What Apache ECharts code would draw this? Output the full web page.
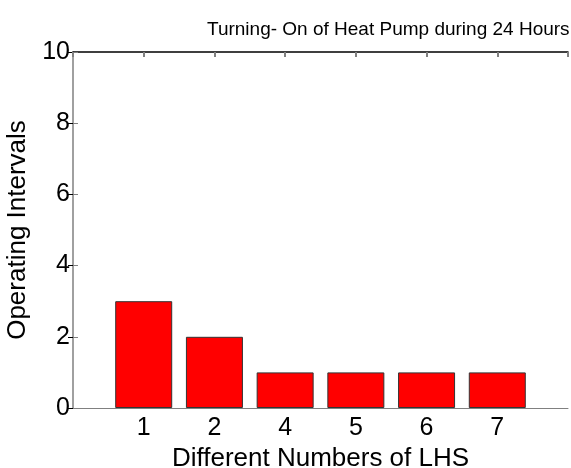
<!DOCTYPE html>
<html>
<head>
<meta charset="utf-8">
<script src="https://cdn.jsdelivr.net/npm/echarts@6/dist/echarts.min.js"></script>
<style>
  html, body { margin: 0; padding: 0; background: #fff; }
  #chart { width: 571px; height: 468px; }
</style>
</head>
<body>
<div id="chart"></div>
<script>
// data
var categories = ['1', '2', '4', '5', '6', '7'];
var values = [3, 2, 1, 1, 1, 1];
var yTicks = [0, 2, 4, 6, 8, 10];

var font = 'Liberation Sans, Arial, sans-serif';
var chart = echarts.init(document.getElementById('chart'));

// bars sit at x = 1..6 on a 0..7 axis, labelled by categories
var barData = values.map(function (v, i) { return [i + 1, v]; });

chart.setOption({
    animation: false,
    title: {
        text: 'Turning- On of Heat Pump during 24 Hours',
        left: 202, top: 15,
        textStyle: { fontFamily: font, fontSize: 19, fontWeight: 'normal', color: '#000' }
    },
    grid: { left: 73, right: 3, top: 52, bottom: 60, containLabel: false, outerBoundsMode: 'none' },
    xAxis: [{
        type: 'value', min: 0, max: 7, interval: 1,
        position: 'bottom',
        name: 'Different Numbers of LHS',
        nameLocation: 'middle', nameGap: 31,
        nameTextStyle: { fontFamily: font, fontSize: 26, color: '#000' },
        axisLine: { show: true, onZero: false, lineStyle: { color: '#808080', width: 1 } },
        axisTick: { show: false },
        splitLine: { show: false },
        axisLabel: {
            fontFamily: font, fontSize: 25, color: '#000', margin: 8,
            formatter: function (v) { return categories[v - 1] || ''; }
        }
    }, {
        type: 'value', min: 0, max: 7, interval: 1,
        position: 'top',
        axisLine: { show: true, onZero: false, lineStyle: { color: '#000', width: 1.5 } },
        axisTick: { show: true, inside: true, length: 5, lineStyle: { color: '#808080', width: 2 } },
        axisLabel: { show: false },
        splitLine: { show: false }
    }],
    yAxis: [{
        type: 'value', min: 0, max: 10, interval: 2,
        name: 'Operating Intervals',
        nameLocation: 'middle', nameGap: 38,
        nameTextStyle: { fontFamily: font, fontSize: 26, color: '#000' },
        axisLine: { show: true, lineStyle: { color: '#808080', width: 1.5 } },
        axisTick: { show: true, inside: true, length: 5, lineStyle: { color: '#808080' } },
        splitLine: { show: false },
        axisLabel: {
            fontFamily: font, fontSize: 25, color: '#000', margin: 3,
            formatter: function (v) { return yTicks.indexOf(v) >= 0 ? String(v) : ''; }
        }
    }, {
        type: 'value', min: 0, max: 10, interval: 2,
        position: 'right',
        axisLine: { show: false },
        axisTick: { show: true, inside: true, length: 5, lineStyle: { color: '#000' } },
        axisLabel: { show: false },
        splitLine: { show: false }
    }],
    series: [{
        type: 'bar',
        data: barData,
        barWidth: 57,
        itemStyle: { color: '#ff0000', borderColor: '#333', borderWidth: 1 }
    }]
});
</script>
</body>
</html>
